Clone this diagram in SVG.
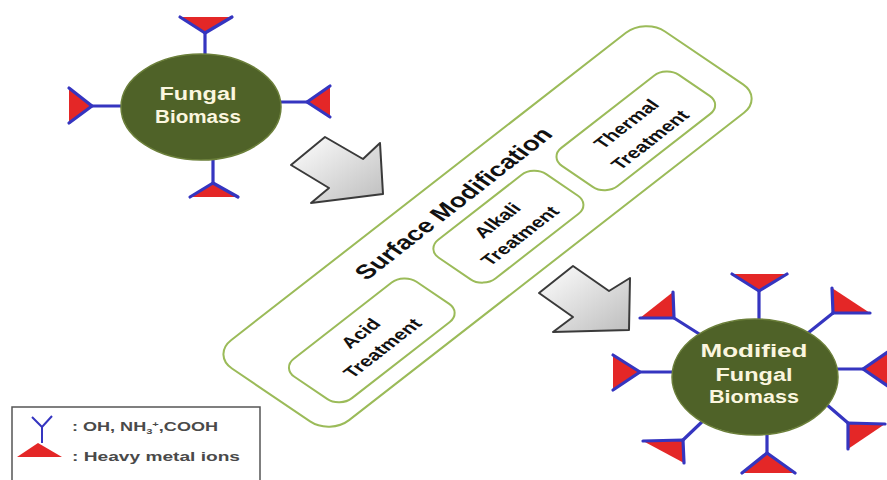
<svg xmlns="http://www.w3.org/2000/svg" width="887" height="480" viewBox="0 0 887 480">
  <defs>
    <style>
      .stem { stroke: #3535c0; stroke-width: 3.2; fill: none; stroke-linecap: round; stroke-linejoin: round; }
      .ion { fill: #e42727; }
      .cell { fill: #4f6228; stroke: #6b7f3a; stroke-width: 1.5; }
      .cell-label { font-family: "Liberation Sans", Arial, sans-serif; font-weight: bold; font-size: 18px; fill: #fbf6df; text-anchor: middle; }
      .panel { fill: #ffffff; stroke: #9bbb59; stroke-width: 2; vector-effect: non-scaling-stroke; }
      .panel-title { font-family: "Liberation Sans", Arial, sans-serif; font-weight: bold; font-size: 22px; fill: #111111; text-anchor: middle; }
      .step-label { font-family: "Liberation Sans", Arial, sans-serif; font-weight: bold; font-size: 17px; fill: #111111; text-anchor: middle; }
      .flow { fill: url(#arrowFill); stroke: #3a3a3a; stroke-width: 2; stroke-linejoin: round; }
      .legend-text { font-family: "Liberation Sans", Arial, sans-serif; font-weight: bold; font-size: 13px; fill: #4a4a4a; }
    </style>
    <linearGradient id="arrowFill" x1="0" y1="0" x2="1" y2="1">
      <stop offset="0" stop-color="#ffffff"/>
      <stop offset="1" stop-color="#bdbdbd"/>
    </linearGradient>
  </defs>

  <rect width="887" height="480" fill="#ffffff"/>

  <!-- raw biomass with binding sites -->
  <g id="fungal-biomass">
    <polygon class="ion" points="180,17 232,17 205,33"/>
    <polyline class="stem" points="180,17 205,33 232,17"/>
    <line class="stem" x1="205" y1="33" x2="205" y2="60"/>
    <polygon class="ion" points="190,197 238,197 213,183"/>
    <polyline class="stem" points="190,197 213,183 238,197"/>
    <line class="stem" x1="213" y1="183" x2="213" y2="155"/>
    <polygon class="ion" points="69,88 69,123 92,106"/>
    <polyline class="stem" points="69,88 92,106 69,123"/>
    <line class="stem" x1="92" y1="106" x2="126" y2="106"/>
    <polygon class="ion" points="330,86 330,117 307,102"/>
    <polyline class="stem" points="330,86 307,102 330,117"/>
    <line class="stem" x1="307" y1="102" x2="276" y2="102"/>
    <ellipse class="cell" cx="201" cy="107" rx="80" ry="53"/>
    <text class="cell-label" x="198" y="100" textLength="77" lengthAdjust="spacingAndGlyphs">Fungal</text>
    <text class="cell-label" x="198" y="123" textLength="86" lengthAdjust="spacingAndGlyphs">Biomass</text>
  </g>

  <!-- surface modification panel (tilted) -->
  <g id="surface-modification" transform="matrix(0.866,-0.674,0.908,0.615,212,355)">
    <rect class="panel" x="0" y="0" width="500" height="130" rx="22"/>
    <text class="panel-title" x="250" y="35">Surface Modification</text>
  </g>
  <g id="acid-treatment" transform="matrix(0.866,-0.674,0.908,0.615,212,355)">
    <rect class="panel" x="27" y="51" width="141" height="64" rx="14"/>
    <text class="step-label" x="97" y="77">Acid</text>
    <text class="step-label" x="97" y="101">Treatment</text>
  </g>
  <g id="alkali-treatment" transform="matrix(0.866,-0.674,0.908,0.615,212,355)">
    <rect class="panel" x="199" y="46" width="124" height="63" rx="14"/>
    <text class="step-label" x="260" y="72">Alkali</text>
    <text class="step-label" x="260" y="97">Treatment</text>
  </g>
  <g id="thermal-treatment" transform="matrix(0.866,-0.674,0.908,0.615,212,355)">
    <rect class="panel" x="338" y="49" width="135" height="62" rx="14"/>
    <text class="step-label" x="406" y="75">Thermal</text>
    <text class="step-label" x="406" y="101">Treatment</text>
  </g>

  <!-- block arrows between stages -->
  <g id="connectors">
    <polygon class="flow" points="291,165 325,137 363,159 380,143 383,194 311,203 329,188"/>
    <polygon class="flow" points="539,293 573,266 609,291 630,278 629,330 553,332 573,317"/>
  </g>

  <!-- modified biomass loaded with metal ions -->
  <g id="modified-fungal-biomass">
    <polygon class="ion" points="732,274 787,274 759,291"/>
    <polyline class="stem" points="732,274 759,291 787,274"/>
    <line class="stem" x1="759" y1="291" x2="759" y2="324"/>
    <polygon class="ion" points="742,473 795,473 767,453"/>
    <polyline class="stem" points="742,473 767,453 795,473"/>
    <line class="stem" x1="767" y1="453" x2="767" y2="430"/>
    <polygon class="ion" points="613,355 613,390 640,372"/>
    <polyline class="stem" points="613,355 640,372 613,390"/>
    <line class="stem" x1="640" y1="372" x2="678" y2="372"/>
    <polygon class="ion" points="895,347 895,391 863,369"/>
    <polyline class="stem" points="895,347 863,369 895,391"/>
    <line class="stem" x1="863" y1="369" x2="832" y2="369"/>
    <polygon class="ion" points="673,292 640,318 674,318"/>
    <polyline class="stem" points="673,292 674,318 640,318"/>
    <line class="stem" x1="674" y1="318" x2="704" y2="337"/>
    <polygon class="ion" points="832,288 870,313 833,313"/>
    <polyline class="stem" points="832,288 833,313 870,313"/>
    <line class="stem" x1="833" y1="313" x2="808" y2="333"/>
    <polygon class="ion" points="643,441 684,463 683,440"/>
    <polyline class="stem" points="643,441 683,440 684,463"/>
    <line class="stem" x1="683" y1="440" x2="706" y2="418"/>
    <polygon class="ion" points="885,424 848,449 848,423"/>
    <polyline class="stem" points="885,424 848,423 848,449"/>
    <line class="stem" x1="848" y1="423" x2="826" y2="404"/>
    <ellipse class="cell" cx="755" cy="377" rx="83" ry="58"/>
    <text class="cell-label" x="754" y="357" textLength="107" lengthAdjust="spacingAndGlyphs">Modified</text>
    <text class="cell-label" x="754" y="381" textLength="77" lengthAdjust="spacingAndGlyphs">Fungal</text>
    <text class="cell-label" x="754" y="403" textLength="90" lengthAdjust="spacingAndGlyphs">Biomass</text>
  </g>

  <!-- key -->
  <g id="legend">
    <rect x="12" y="407" width="248" height="90" fill="#ffffff" stroke="#555555" stroke-width="1.5"/>
    <polyline points="32,417 42,427 52,416" fill="none" stroke="#3535c0" stroke-width="2"/>
    <line x1="42" y1="427" x2="42" y2="443" stroke="#3535c0" stroke-width="2"/>
    <text class="legend-text" x="72" y="431" textLength="146" lengthAdjust="spacingAndGlyphs">: OH, NH<tspan font-size="8" dy="3">3</tspan><tspan font-size="8" dy="-7">+</tspan><tspan dy="4">,COOH</tspan></text>
    <polygon points="17,457 62,457 38,443" fill="#e42727"/>
    <text class="legend-text" x="72" y="461" textLength="168" lengthAdjust="spacingAndGlyphs">: Heavy metal ions</text>
  </g>
</svg>
